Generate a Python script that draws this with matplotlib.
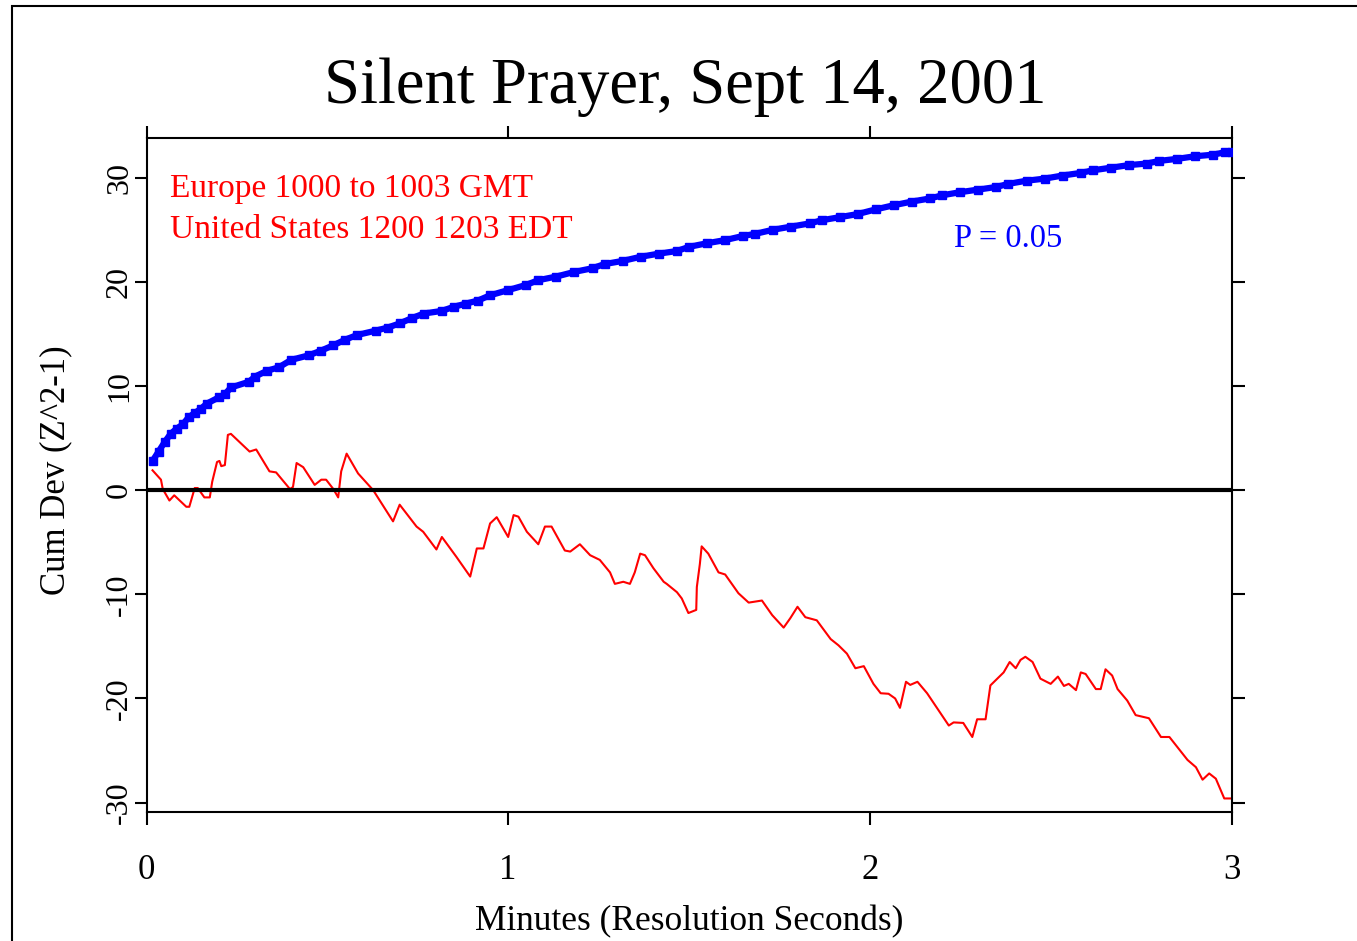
#!/usr/bin/env python3

import numpy as np
import matplotlib
matplotlib.use('Agg')
import matplotlib.pyplot as plt
from matplotlib.patches import Rectangle

# cumulative deviation (seconds, value)
red_t = [1, 2.4, 2.7, 3.8, 4.6, 6.6, 7.1, 8, 8.5, 9.6, 10.5, 10.9, 11.7, 12.1,
         12.4, 13, 13.5, 14, 17.1, 18.2, 20.4, 21.5, 23.8, 24.3, 24.9, 26,
         27.9, 29, 29.8, 31, 31.8, 32.3, 33.2, 35.1, 37.6, 40.9, 42, 44.8,
         45.9, 48.1, 49, 51.4, 53.7, 54.8, 55.9, 57, 58.1, 60, 60.9, 61.7,
         63.1, 65, 66.1, 67.2, 69.4, 70.3, 71.9, 73.6, 75.2, 76.9, 77.7, 79.1,
         80.2, 81, 81.9, 82.7, 84.1, 85.8, 86.3, 88, 88.8, 89.9, 91.2, 91.3,
         91.8, 92.1, 93.2, 94.9, 96, 98.2, 99.9, 102.1, 103.8, 105.7, 106.8,
         108, 109.3, 111.2, 113.5, 114.8, 116.2, 117.6, 119, 120.6, 121.8,
         123.1, 124.2, 125, 126, 126.7, 127.9, 129.5, 131.7, 133.1, 133.9,
         135.5, 137, 137.8, 139.2, 140, 142.2, 143.2, 144.2, 145, 145.8, 147,
         148.3, 150, 151.2, 152.2, 153, 154.2, 155, 155.8, 157.5, 158.3, 159.1,
         160.2, 161.1, 162.7, 164.1, 166.3, 168.3, 169.7, 172.7, 174.1, 175.2,
         176.3, 177.4, 178.8, 179.9]
red_v = [1.9, 1.0, 0.1, -1.0, -0.5, -1.6, -1.6, 0.2, 0.2, -0.7, -0.7, 0.8, 2.7, 2.8,
         2.3, 2.4, 5.3, 5.4, 3.7, 3.9, 1.8, 1.7, 0.1, 0.3, 2.6, 2.2,
         0.5, 1.0, 1.0, 0.1, -0.7, 1.8, 3.5, 1.6, 0.0, -3.0, -1.4, -3.5,
         -4.0, -5.7, -4.5, -6.4, -8.3, -5.6, -5.6, -3.2, -2.6, -4.5, -2.4, -2.55,
         -4.0, -5.2, -3.5, -3.5, -5.8, -5.9, -5.2, -6.25, -6.7, -7.9, -9.0, -8.8,
         -9.0, -7.9, -6.1, -6.25, -7.5, -8.8, -9.0, -9.8, -10.4, -11.8, -11.5, -9.3,
         -7.1, -5.4, -6.1, -7.9, -8.1, -9.9, -10.8, -10.6, -12.0, -13.2, -12.3,
         -11.2, -12.2, -12.5, -14.3, -14.9, -15.7, -17.1, -16.9, -18.6, -19.5,
         -19.55, -20.0, -20.9, -18.4, -18.7, -18.4, -19.5, -21.4, -22.6, -22.3,
         -22.35, -23.7, -22.0, -22.0, -18.75, -17.5, -16.5, -17.1, -16.3, -16.0, -16.5,
         -18.1, -18.6, -17.9, -18.8, -18.6, -19.2, -17.5, -17.65, -19.1, -19.1, -17.2,
         -17.8, -19.1, -20.2, -21.6, -21.9, -23.7, -23.7, -25.9, -26.6, -27.8,
         -27.2, -27.7, -29.6, -29.6]

# P = 0.05 envelope (seconds, value)
blue_t = [1, 2, 3, 4, 5, 6, 7, 8, 9, 10, 12, 13, 14, 17, 18, 20, 22, 24, 27, 29,
          31, 33, 35, 38, 40, 42, 44, 46, 49, 51, 53, 55, 57, 60, 63, 65, 68, 71,
          74, 76, 79, 82, 85, 88, 90, 93, 96, 99, 101, 104, 107, 110, 112, 115,
          118, 121, 124, 127, 130, 132, 135, 138, 141, 143, 146, 149, 152, 155,
          157, 160, 163, 166, 168, 171, 174, 177, 179, 180]
blue_v = [2.8, 3.7, 4.6, 5.4, 5.9, 6.3, 7.0, 7.4, 7.8, 8.3, 8.9, 9.2, 9.85, 10.4,
          10.9, 11.45, 11.8, 12.5, 12.95, 13.4, 13.9, 14.45, 14.9, 15.3, 15.6, 16.0,
          16.5, 16.95, 17.2, 17.6, 17.9, 18.2, 18.7, 19.2, 19.7, 20.15, 20.5, 20.95,
          21.3, 21.7, 22.0, 22.4, 22.7, 22.95, 23.35, 23.7, 24.0, 24.4, 24.6, 25.0,
          25.3, 25.6, 25.9, 26.2, 26.5, 26.95, 27.35, 27.7, 28.0, 28.3, 28.6, 28.85,
          29.1, 29.4, 29.7, 29.9, 30.2, 30.45, 30.7, 30.95, 31.2, 31.35, 31.6, 31.8,
          32.05, 32.2, 32.45, 32.5]

xticks = [0, 1, 2, 3]
yticks = [-30, -20, -10, 0, 10, 20, 30]

plt.rcParams['font.family'] = ['Liberation Serif', 'DejaVu Serif']
plt.rcParams['axes.unicode_minus'] = False

W, H = 1357, 941
fig = plt.figure(figsize=(W / 100, H / 100), dpi=100)
ax = fig.add_axes([146.5 / W, 1 - 812 / H, 1085 / W, 674 / H])

red_x = np.array(red_t) / 60.0
blue_x = np.array(blue_t) / 60.0

ax.plot(blue_x, blue_v, color='#0000ff', lw=4.5, solid_capstyle='butt', zorder=3)
ax.plot(blue_x, blue_v, 's', color='#0000ff', ms=5.5, zorder=3)
ax.plot(red_x, red_v, color='#ff0000', lw=1.5, zorder=2)
ax.plot([0.01, 3], [0, 0], color='black', lw=3, zorder=4)

ax.set_xlim(0, 3)
ax.set_ylim(-30.9, 33.8)
ax.set_xticks(xticks)
ax.set_yticks(yticks)
ax.tick_params(direction='out', length=9, width=1.5, top=True, right=True,
               labeltop=False, labelright=False)
ax.tick_params(axis='x', labelsize=25, pad=21)
ax.tick_params(axis='y', labelsize=23, pad=0)
for lab in ax.get_yticklabels():
    lab.set_rotation(90)
    lab.set_va('center')
for sp in ax.spines.values():
    sp.set_linewidth(1.5)

ax.set_xlabel('Minutes (Resolution Seconds)', fontsize=25.5)
ax.xaxis.set_label_coords(0.5, -0.138)
ax.set_ylabel('Cum Dev (Z^2-1)', fontsize=25)
ax.yaxis.set_label_coords(-0.068, 0.507)

ax.text(0.0217, 0.9125, 'Europe 1000 to 1003 GMT', color='#ff0000',
        fontsize=24, transform=ax.transAxes, va='baseline')
ax.text(0.0217, 0.8516, 'United States 1200 1203 EDT', color='#ff0000',
        fontsize=24, transform=ax.transAxes, va='baseline')
ax.text(0.744, 0.8387, 'P = 0.05', color='#0000ff',
        fontsize=23.5, transform=ax.transAxes, va='baseline')

fig.text(685 / W, 1 - 103 / H, 'Silent Prayer, Sept 14, 2001',
         fontsize=46.5, ha='center', va='baseline')

# outer frame, only left and top edges are inside the picture
frame = Rectangle((12 / W, -0.5), 2.0, (1 - 6 / H) + 0.5, transform=fig.transFigure,
                  fill=False, lw=1.5, edgecolor='black', clip_on=False)
fig.patches.append(frame)

fig.savefig('out.png', dpi=100)
